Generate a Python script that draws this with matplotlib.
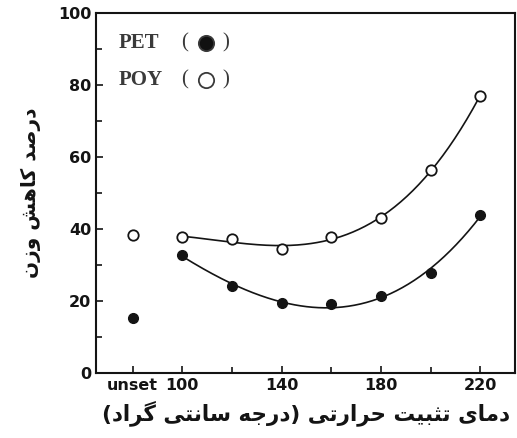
import numpy as np
import matplotlib.pyplot as plt

# x position 80 stands for the "unset" sample
temps = [80, 100, 120, 140, 160, 180, 200, 220]
pet = [15.3, 32.8, 24.2, 19.4, 19.2, 21.4, 27.8, 44.0]
poy = [38.3, 37.8, 37.2, 34.4, 37.8, 43.0, 56.4, 77.0]
xticks = [80, 100, 140, 180, 220]
xticklabels = ['unset', '100', '140', '180', '220']

ylabel = 'درصد کاهش وزن'
xlabel = 'دمای تثبیت حرارتی (درجه سانتی گراد)'

# presentation forms: isolated, final, initial, medial
forms = {
    'ا': ('\uFE8D', '\uFE8E', None, None),
    'ب': ('\uFE8F', '\uFE90', '\uFE91', '\uFE92'),
    'ت': ('\uFE95', '\uFE96', '\uFE97', '\uFE98'),
    'ث': ('\uFE99', '\uFE9A', '\uFE9B', '\uFE9C'),
    'ج': ('\uFE9D', '\uFE9E', '\uFE9F', '\uFEA0'),
    'ح': ('\uFEA1', '\uFEA2', '\uFEA3', '\uFEA4'),
    'د': ('\uFEA9', '\uFEAA', None, None),
    'ر': ('\uFEAD', '\uFEAE', None, None),
    'ز': ('\uFEAF', '\uFEB0', None, None),
    'س': ('\uFEB1', '\uFEB2', '\uFEB3', '\uFEB4'),
    'ش': ('\uFEB5', '\uFEB6', '\uFEB7', '\uFEB8'),
    'ص': ('\uFEB9', '\uFEBA', '\uFEBB', '\uFEBC'),
    'م': ('\uFEE1', '\uFEE2', '\uFEE3', '\uFEE4'),
    'ن': ('\uFEE5', '\uFEE6', '\uFEE7', '\uFEE8'),
    'ه': ('\uFEE9', '\uFEEA', '\uFEEB', '\uFEEC'),
    'و': ('\uFEED', '\uFEEE', None, None),
    'ی': ('\uFBFC', '\uFBFD', '\uFBFE', '\uFBFF'),
    'ک': ('\uFB8E', '\uFB8F', '\uFB90', '\uFB91'),
    'گ': ('\uFB92', '\uFB93', '\uFB94', '\uFB95'),
}
mirror = {'(': ')', ')': '('}


def shape(s):
    out = []
    for i, ch in enumerate(s):
        if ch not in forms:
            out.append(mirror.get(ch, ch))
            continue
        prev = s[i - 1] if i > 0 else ''
        nxt = s[i + 1] if i + 1 < len(s) else ''
        join_prev = prev in forms and forms[prev][2] is not None
        join_next = nxt in forms and forms[ch][2] is not None
        iso, fin, ini, med = forms[ch]
        if join_prev and join_next:
            out.append(med)
        elif join_prev:
            out.append(fin)
        elif join_next:
            out.append(ini)
        else:
            out.append(iso)
    return ''.join(out[::-1])


col = '#141414'
fig = plt.figure(figsize=(5.17, 4.38), dpi=100)
ax = fig.add_axes([0.186, 0.148, 0.810, 0.822])

# smooth trend curves through the heat-set points
xs = np.linspace(100, 220, 200)
for ys in (pet, poy):
    c = np.polyfit(temps[1:], ys[1:], 3)
    ax.plot(xs, np.polyval(c, xs), color=col, lw=1.2)

ax.plot(temps, pet, 'o', color=col, ms=7, mfc=col, mec=col)
ax.plot(temps, poy, 'o', color=col, ms=7.5, mfc='white', mec=col, mew=1.3)

ax.set_xlim(65.3, 234)
ax.set_ylim(0, 100)
ax.set_xticks(xticks)
ax.set_xticklabels(xticklabels)
ax.set_xticks(range(80, 221, 20), minor=True)
ax.set_yticks(range(0, 101, 20))
ax.set_yticks(range(10, 100, 20), minor=True)
ax.tick_params(which='both', direction='in', color=col, width=1.2)
ax.tick_params(which='major', length=5)
ax.tick_params(which='minor', length=4)
ax.tick_params(axis='both', labelsize=11.5, labelcolor=col)
for lab in ax.get_xticklabels() + ax.get_yticklabels():
    lab.set_fontweight('bold')
for s in ax.spines.values():
    s.set_linewidth(1.5)
    s.set_color(col)

ax.set_ylabel(shape(ylabel), fontsize=14.5, fontweight='bold', color=col, labelpad=12)
ax.set_xlabel(shape(xlabel), fontsize=15.5, fontweight='bold', color=col, labelpad=5)

# hand-made key, as in the original
lg = '#3a3a3a'
for name, yk, face in (('PET', 0.917, '#111111'), ('POY', 0.814, 'white')):
    ax.text(0.053, yk, name, transform=ax.transAxes, fontsize=15,
            family='Liberation Serif', fontweight='bold', color=lg, va='center')
    ax.text(0.212, yk, '(', transform=ax.transAxes, fontsize=15,
            family='Liberation Serif', color=lg, va='center', ha='center')
    ax.text(0.31, yk, ')', transform=ax.transAxes, fontsize=15,
            family='Liberation Serif', color=lg, va='center', ha='center')
    ax.plot([0.263], [yk], 'o', transform=ax.transAxes, ms=11,
            mfc=face, mec=lg, mew=1.3, clip_on=False)

fig.savefig('out.png', dpi=100)
